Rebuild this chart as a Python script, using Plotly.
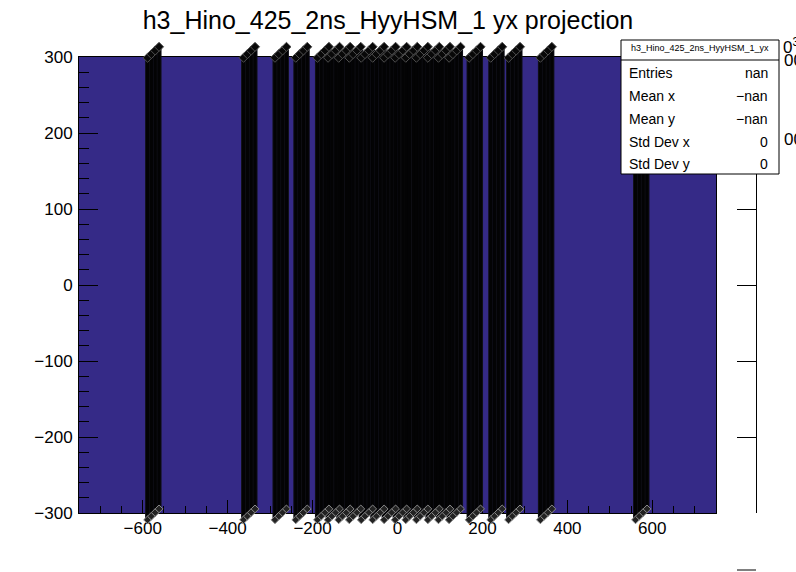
import plotly.graph_objects as go

# ---------------- data ----------------
title_text = "h3_Hino_425_2ns_HyyHSM_1 yx projection"
stats_title = "h3_Hino_425_2ns_HyyHSM_1_yx"
stat_labels = ["Entries", "Mean x", "Mean y", "Std Dev x", "Std Dev y"]
stat_values = ["nan", "\u2212nan", "\u2212nan", "0", "0"]

# x centres of the black column groups
group_x = [-575, -349, -275, -226, -175, -150, -125, -100, -72, -45, -18,
           8, 33, 58, 85, 110, 135, 182, 233, 275, 350, 574]
col_bottom = -309   # lower end of each column
col_top = 299       # upper end of each column

x_range = [-750, 750]
y_range = [-300, 300]
x_tickvals = [-600, -400, -200, 0, 200, 400, 600]
y_tickvals = [-300, -200, -100, 0, 100, 200, 300]

# ---------------- layout geometry (pixels) ----------------
W, H = 796, 572
ML, MR, MT, MB = 79, 30, 30, 40
PW, PH = W - ML - MR, H - MT - MB
FL, FR, FT, FB = 79, 716, 57, 513     # frame in pixels


def px_x(p):
    return (p - ML) / PW


def px_y(p):
    return (H - MB - p) / PH


NAVY = "#352A87"
FONT = "Liberation Sans, Arial, sans-serif"

# column 3D offsets (style)
N_SUB = 4
DX = 9.0
DY = 4.8

fig = go.Figure()

xs, ys, xt, yt, xb, yb = [], [], [], [], [], []
for c in group_x:
    for k in range(N_SUB):
        xx = c + (k - (N_SUB - 1) / 2) * DX
        y0 = col_bottom + k * DY
        y1 = col_top + k * DY
        xs += [xx, xx, None]
        ys += [y0, y1, None]
        xt.append(xx)
        yt.append(y1)
        xb.append(xx)
        yb.append(y0)

fig.add_trace(go.Scatter(x=xs, y=ys, mode="lines", xaxis="x2", yaxis="y2",
                         line=dict(color="#101018", width=5), hoverinfo="skip",
                         showlegend=False))
fig.add_trace(go.Scatter(x=xs, y=ys, mode="lines", xaxis="x2", yaxis="y2",
                         line=dict(color="#030304", width=3), hoverinfo="skip",
                         showlegend=False))
fig.add_trace(go.Scatter(x=xb, y=yb, mode="markers", xaxis="x2", yaxis="y2",
                         marker=dict(symbol="diamond", size=6, color="#222222",
                                     line=dict(color="#8a8a8a", width=1)),
                         cliponaxis=False, hoverinfo="skip", showlegend=False))
fig.add_trace(go.Scatter(x=xt, y=yt, mode="markers", xaxis="x2", yaxis="y2",
                         marker=dict(symbol="diamond", size=7, color="#080808",
                                     line=dict(color="#505050", width=1)),
                         cliponaxis=False, hoverinfo="skip", showlegend=False))
fig.add_trace(go.Scatter(x=[None], y=[None], xaxis="x", yaxis="y",
                         showlegend=False, hoverinfo="skip"))

ppu = (FB - FT) / (y_range[1] - y_range[0])
y2_range = [y_range[0] - (H - MB - FB) / ppu, y_range[1] + (FT - MT) / ppu]
x_dom = [px_x(FL), px_x(FR)]
y_dom = [px_y(FB), px_y(FT)]

axis_common = dict(showgrid=False, zeroline=False, showline=True, linecolor="black",
                   linewidth=1, mirror=True, ticks="inside", tickcolor="black",
                   automargin=False,
                   tickfont=dict(family=FONT, size=17, color="black"))

shapes = [
    dict(type="rect", xref="x domain", yref="y domain", x0=0, x1=1, y0=0, y1=1,
         fillcolor=NAVY, line=dict(width=0), layer="below"),
    dict(type="rect", xref="paper", yref="paper", x0=px_x(621), x1=px_x(779),
         y0=px_y(174), y1=px_y(40), fillcolor="white", line=dict(color="black", width=1)),
    dict(type="line", xref="paper", yref="paper", x0=px_x(621), x1=px_x(779),
         y0=px_y(60), y1=px_y(60), line=dict(color="black", width=1)),
    dict(type="line", xref="paper", yref="paper", x0=px_x(737), x1=px_x(756),
         y0=px_y(570), y1=px_y(570), line=dict(color="black", width=1)),
]

annotations = [
    dict(xref="paper", yref="paper", x=px_x(700), y=px_y(48), text=stats_title,
         showarrow=False, xanchor="center", yanchor="middle",
         font=dict(family=FONT, size=9, color="black")),
    dict(xref="paper", yref="paper", x=px_x(781), y=px_y(46), text="0<sup>30</sup>",
         showarrow=False, xanchor="left", yanchor="middle",
         font=dict(family=FONT, size=17, color="black")),
    dict(xref="paper", yref="paper", x=px_x(782), y=px_y(61), text="00",
         showarrow=False, xanchor="left", yanchor="middle",
         font=dict(family=FONT, size=17, color="black")),
    dict(xref="paper", yref="paper", x=px_x(782), y=px_y(139), text="00",
         showarrow=False, xanchor="left", yanchor="middle",
         font=dict(family=FONT, size=17, color="black")),
]
row_y = [73, 96, 119, 142, 164]
for lab, val, ry in zip(stat_labels, stat_values, row_y):
    annotations.append(dict(xref="paper", yref="paper", x=px_x(627), y=px_y(ry), text=lab,
                            showarrow=False, xanchor="left", yanchor="middle",
                            font=dict(family=FONT, size=14, color="black")))
    annotations.append(dict(xref="paper", yref="paper", x=px_x(770), y=px_y(ry), text=val,
                            showarrow=False, xanchor="right", yanchor="middle",
                            font=dict(family=FONT, size=14, color="black")))

fig.update_layout(
    width=W, height=H,
    margin=dict(l=ML, r=MR, t=MT, b=MB, pad=0, autoexpand=False),
    paper_bgcolor="white", plot_bgcolor="rgba(0,0,0,0)",
    title=dict(text=title_text, x=388 / W, xanchor="center", y=1 - 20 / H,
               yanchor="middle", yref="container", automargin=False,
               font=dict(family=FONT, size=25, color="black")),
    xaxis=dict(domain=x_dom, range=x_range, tickvals=x_tickvals, ticklen=13,
               minor=dict(dtick=50, tick0=0, ticklen=7, ticks="inside", tickcolor="black"),
               anchor="y", **axis_common),
    yaxis=dict(domain=y_dom, range=y_range, tickvals=y_tickvals, ticklen=19,
               minor=dict(dtick=20, tick0=0, ticklen=10, ticks="inside", tickcolor="black"),
               anchor="x", ticklabelstandoff=2, **axis_common),
    xaxis2=dict(domain=x_dom, matches="x", anchor="y2", visible=False),
    yaxis2=dict(domain=[0, 1], range=y2_range, anchor="x2", visible=False),
    yaxis3=dict(overlaying="y", matches="y", anchor="free", position=px_x(756), side="right",
                showline=True, linecolor="black", linewidth=1, ticks="inside",
                ticklen=19, tickcolor="black", tickvals=y_tickvals, showticklabels=False,
                showgrid=False, zeroline=False, automargin=False),
    shapes=shapes, annotations=annotations,
    showlegend=False,
)
fig.add_trace(go.Scatter(x=[None], y=[None], xaxis="x", yaxis="y3",
                         showlegend=False, hoverinfo="skip"))

fig.write_html("out.html", config={"displayModeBar": False},
               post_script="document.body.style.margin='0';")
